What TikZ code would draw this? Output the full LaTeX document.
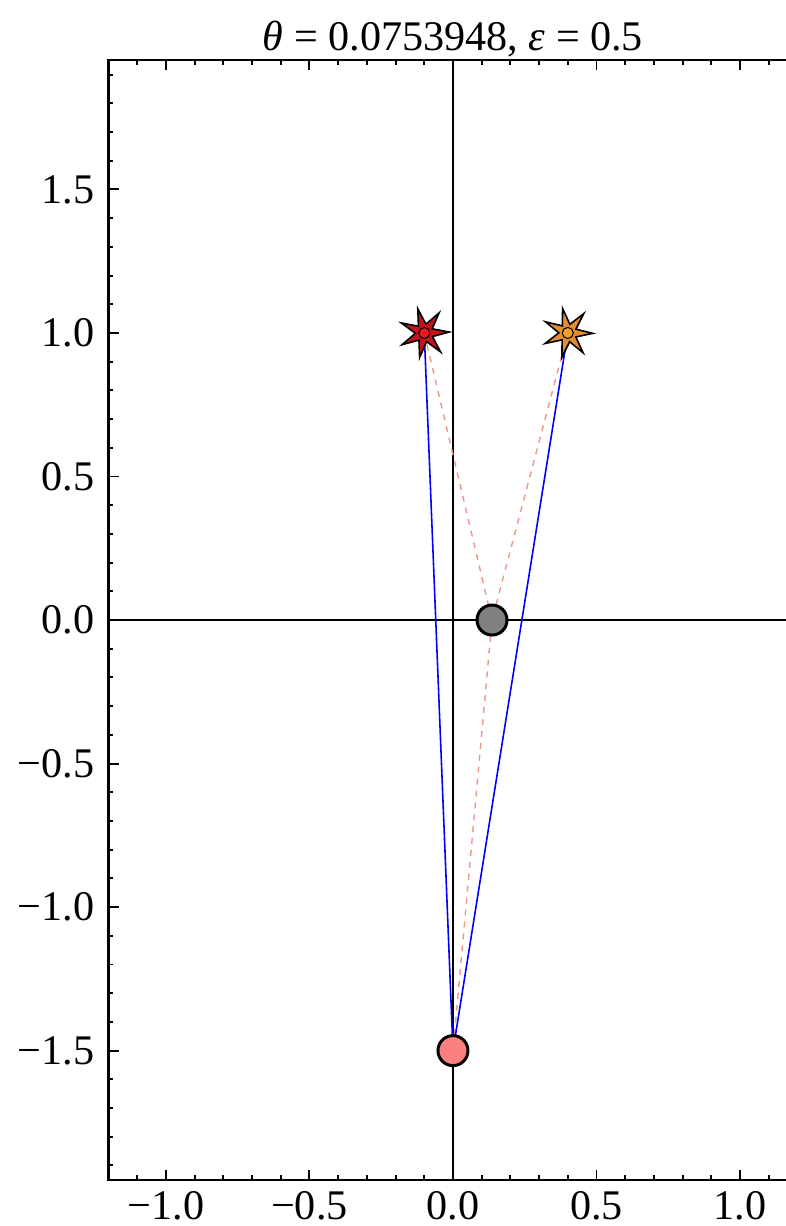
\documentclass[tikz,border=0pt]{standalone}
\usepackage{fontspec}
\setmainfont{Liberation Serif}
\usetikzlibrary{shapes.geometric}

\definecolor{raypink}{RGB}{236,150,140}
\definecolor{diskpink}{RGB}{250,128,128}
\definecolor{starred}{RGB}{195,20,30}
\definecolor{dotred}{RGB}{235,25,30}
\definecolor{starorange}{RGB}{228,140,50}
\definecolor{dotorange}{RGB}{245,160,45}

\tikzset{
  frame/.style={line width=0.7pt},
  tickmark/.style={line width=0.55pt},
  axisline/.style={line width=0.5pt},
  ticklabel/.style={font=\fontsize{12}{14}\selectfont, inner sep=0pt},
  direct/.style={blue, line width=0.45pt},
  reflected/.style={raypink, line width=0.4pt, dash pattern=on 1.7pt off 1.7pt},
  starmark/.style={star, star points=7, star point ratio=2.8, minimum size=0.5cm,
    inner sep=0pt, draw=black, line width=0.45pt},
  diskmark/.style={circle, minimum size=0.3cm, inner sep=0pt, draw=black, line width=0.85pt}
}

\begin{document}
\begin{tikzpicture}[x=2.87cm, y=2.87cm]
\useasboundingbox (-1.578,-2.111) rectangle (1.160,2.160);
\clip (-1.578,-2.111) rectangle (1.160,2.160);

% Title
\node[ticklabel, anchor=base] (title) at (0,1.985)
    {{\itshape θ} = 0.0753948, {\itshape ε} = 0.5};

% Axes
\draw[axisline] (-1.2,0) -- (1.2,0);
\draw[axisline] (0,-1.95) -- (0,1.95);

% Frame and ticks
\draw[frame] (-1.2,-1.95) rectangle (1.2,1.95);
\foreach \i in {-12,...,12}{
  \pgfmathsetmacro{\tl}{ifthenelse(mod(\i,5)==0,0.035,0.0174)}
  \draw[tickmark] (\i/10,-1.95) -- ++(0,\tl);
  \draw[tickmark] (\i/10,1.95) -- ++(0,-\tl);
}
\foreach \i in {-19,...,19}{
  \pgfmathsetmacro{\tl}{ifthenelse(mod(\i,5)==0,0.035,0.0174)}
  \draw[tickmark] (-1.2,\i/10) -- ++(\tl,0);
}

% Tick labels
\foreach \v/\t [count=\k] in {-1/−1.0, -0.5/−0.5, 0/0.0, 0.5/0.5, 1/1.0}
  \node[ticklabel, anchor=base] (xlab\k) at (\v,-2.087) {\t};
\foreach \v/\t [count=\k] in {-1.5/−1.5, -1/−1.0, -0.5/−0.5, 0/0.0, 0.5/0.5, 1/1.0, 1.5/1.5}
  \node[ticklabel, anchor=east] (ylab\k) at (-1.247,\v) {\t};

% Positions
\coordinate (redpos) at (-0.1,1);
\coordinate (orangepos) at (0.4,1);
\coordinate (mirrorpos) at (0.136,0);
\coordinate (eyepos) at (0,-1.5);

% Rays
\draw[reflected] (redpos) -- (mirrorpos) -- (eyepos);
\draw[reflected] (orangepos) -- (mirrorpos);
\draw[direct] (eyepos) -- (redpos);
\draw[direct] (eyepos) -- (orangepos);

% Markers
\node[diskmark, fill=gray] (mirror) at (mirrorpos) {};
\node[diskmark, fill=diskpink] (eye) at (eyepos) {};
\node[starmark, fill=starred, shape border rotate=15] (redstar) at (redpos) {};
\draw[fill=dotred, line width=0.3pt] (redstar.center) circle (0.055cm);
\node[starmark, fill=starorange, shape border rotate=12] (orangestar) at (orangepos) {};
\draw[fill=dotorange, line width=0.3pt] (orangestar.center) circle (0.055cm);
\end{tikzpicture}
\end{document}
